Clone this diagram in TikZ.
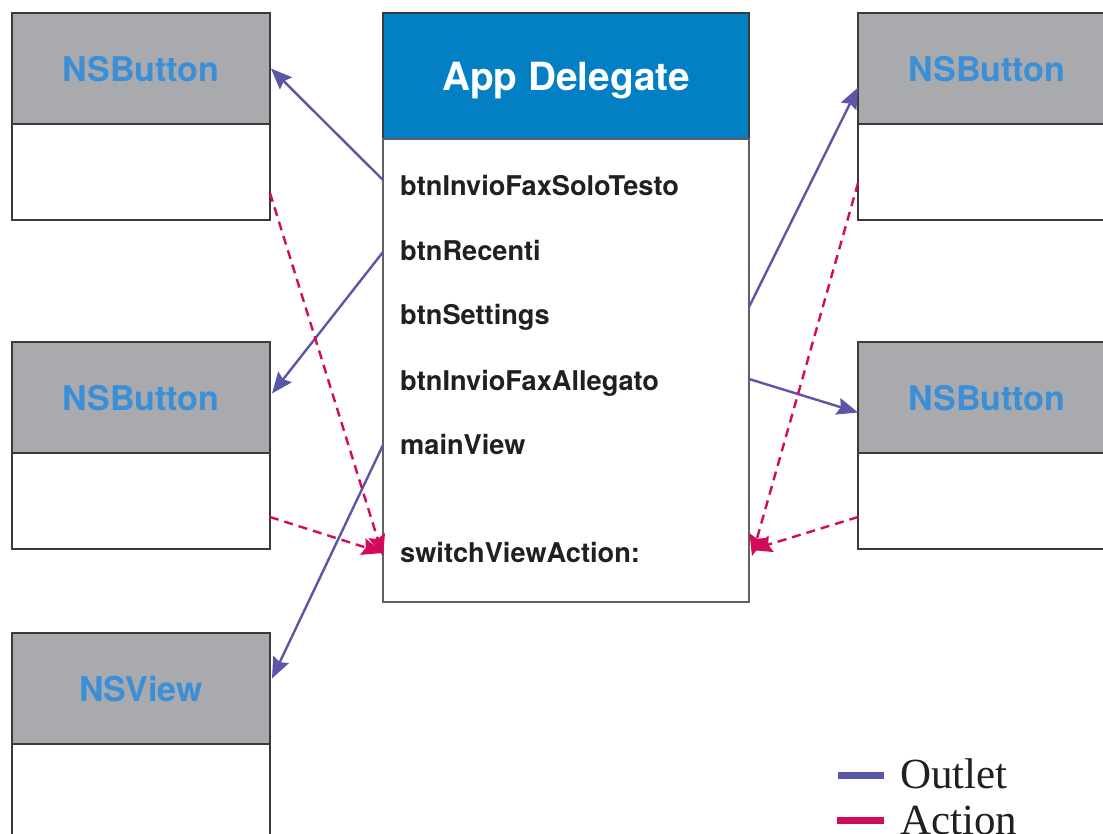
\documentclass[tikz,border=0pt]{standalone}
\usepackage{fontspec}
\setmainfont{Liberation Serif}
\newfontfamily\hv{TeX Gyre Heros}
\usetikzlibrary{arrows.meta,positioning,calc}
\definecolor{boxgray}{HTML}{A9AAAD}
\definecolor{adblue}{HTML}{0380C4}
\definecolor{nsblue}{HTML}{3A8FD6}
\definecolor{outletc}{HTML}{5A56A8}
\definecolor{actionc}{HTML}{D20A5C}
\definecolor{ink}{HTML}{231F20}
\definecolor{edge}{HTML}{3A3A3A}

\begin{document}
\begin{tikzpicture}[x=1pt,y=-1pt,
  hdr/.style={draw=edge, line width=1.5pt, fill=boxgray, minimum width=258pt,
    minimum height=111pt, inner sep=0pt, outer sep=0pt, text depth=0pt,
    font=\hv\bfseries\fontsize{34}{34}\selectfont, text=nsblue, anchor=north west},
  bodybox/.style={draw=edge, line width=1.5pt, fill=white, minimum width=258pt,
    minimum height=96pt, inner sep=0pt, outer sep=0pt, anchor=north},
  adhdr/.style={draw=edge, line width=1.5pt, fill=adblue, minimum width=366pt,
    minimum height=126pt, inner sep=0pt, outer sep=0pt, text depth=0pt,
    font=\hv\bfseries\fontsize{38.8}{38.8}\selectfont, text=white, anchor=north west},
  adbody/.style={draw=edge!80, line width=1.5pt, fill=white, minimum width=366pt,
    minimum height=463pt, inner sep=0pt, outer sep=0pt, anchor=north},
  field/.style={font=\hv\bfseries\fontsize{27.2}{27.2}\selectfont, text=ink,
    inner sep=0pt, anchor=base west},
  tip/.style={-{Stealth[length=21pt,width=17pt,inset=3pt]}},
  outlet/.style={draw=outletc, line width=2.4pt, tip},
  action/.style={draw=actionc, line width=2.4pt, dash pattern=on 9pt off 6pt, tip},
  legtext/.style={font=\fontsize{43}{43}\selectfont, text=ink, inner sep=0pt,
    anchor=base west},
  legbar/.style={line width=7pt}
]
\useasboundingbox (0,0) rectangle (1103,834);

% left column: two buttons and the view
\node[hdr] (lb1h) at (12,13) {NSButton};
\node[bodybox] (lb1b) at (lb1h.south) {};
\node[hdr] (lb2h) at (12,342) {NSButton};
\node[bodybox] (lb2b) at (lb2h.south) {};
\node[hdr] (lvh) at (12,633) {NSView};
\node[bodybox, minimum height=110pt] (lvb) at (lvh.south) {};

% right column: two buttons
\node[hdr] (rb1h) at (858,13) {NSButton};
\node[bodybox] (rb1b) at (rb1h.south) {};
\node[hdr] (rb2h) at (858,342) {NSButton};
\node[bodybox] (rb2b) at (rb2h.south) {};

% the app delegate object with its outlets and action
\node[adhdr] (adh) at (383,13) {App Delegate};
\node[adbody] (adb) at (adh.south) {};
\node[field] (f1) at (400,196) {btnInvioFaxSoloTesto};
\node[field] (f2) at (400,261) {btnRecenti};
\node[field] (f3) at (400,325) {btnSettings};
\node[field] (f4) at (400,390) {btnInvioFaxAllegato};
\node[field] (f5) at (400,454) {mainView};
\node[field] (f6) at (400,562) {switchViewAction:};

% outlet connections
\draw[outlet] ([yshift=16pt]adb.west |- f1.base) -- ([xshift=1pt]lb1h.east);
\draw[outlet] ([yshift=9pt]adb.west |- f2.base) -- ([xshift=2pt,yshift=4pt]lb2h.east);
\draw[outlet] ([yshift=9pt]adb.west |- f5.base) -- ([xshift=2pt,yshift=10pt]lvh.east);
\draw[outlet] ([yshift=18pt]adb.east |- f3.base) -- ([yshift=-19pt]rb1h.west);
\draw[outlet] ([yshift=11pt]adb.east |- f4.base) -- ([yshift=-15pt]rb2h.west);

% action connections
\draw[action] ([yshift=-69pt]lb1b.north east) -- ([yshift=6pt]adb.west |- f6.base);
\draw[action] ([yshift=-64pt]lb2b.north east) -- ([yshift=9pt]adb.west |- f6.base);
\draw[action] ([yshift=-59pt]rb1b.north west) -- ([xshift=3pt,yshift=6pt]adb.east |- f6.base);
\draw[action] ([yshift=-64pt]rb2b.north west) -- ([xshift=2pt,yshift=12pt]adb.east |- f6.base);

% legend
\node[legtext] (lo) at (900,788) {Outlet};
\node[legtext] (la) at (900,834) {Action};
\coordinate (lo1) at ([xshift=-62pt,yshift=12.5pt]lo.base west);
\coordinate (la1) at ([xshift=-63pt,yshift=13.5pt]la.base west);
\draw[legbar, outletc] (lo1) -- ++(46,0);
\draw[legbar, actionc] (la1) -- ++(47,0);
\end{tikzpicture}
\end{document}
